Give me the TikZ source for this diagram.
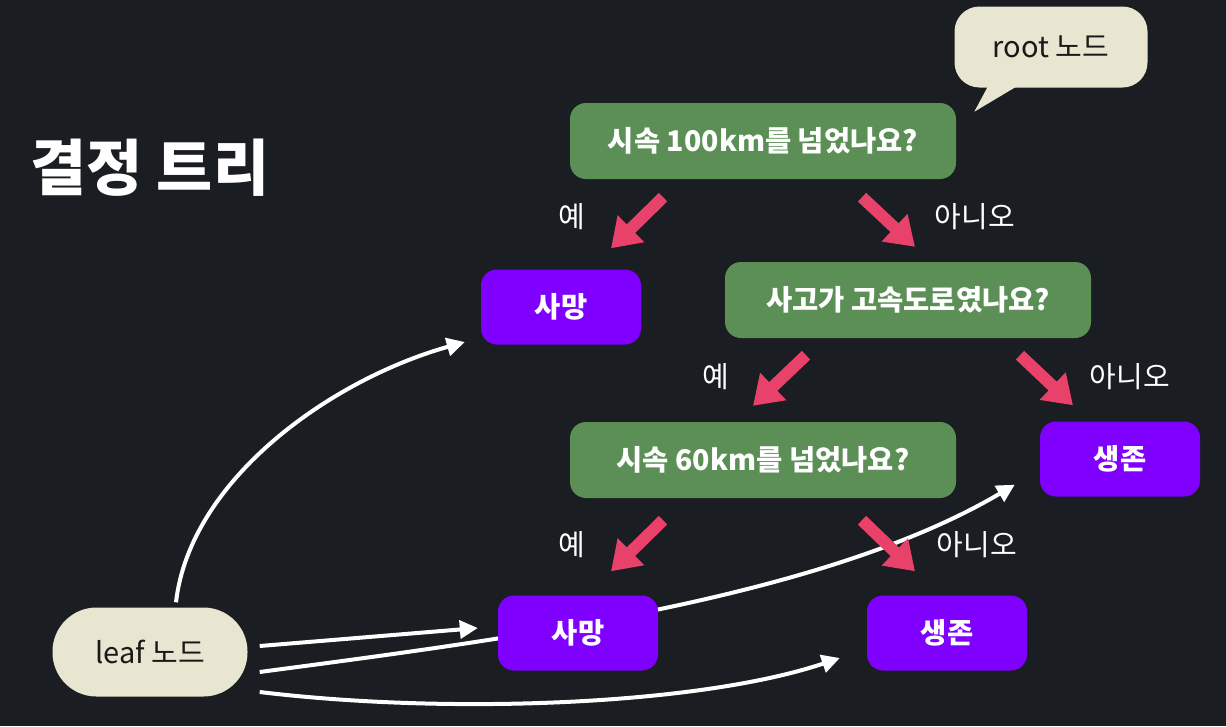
\documentclass[tikz,border=0pt]{standalone}
\usepackage{fontspec}
\setmainfont{Noto Sans CJK KR}
\usetikzlibrary{arrows.meta,backgrounds}
\definecolor{bgdark}{RGB}{26,29,33}
\definecolor{cream}{RGB}{232,229,208}
\definecolor{qgreen}{RGB}{91,143,86}
\definecolor{leafpurple}{RGB}{127,0,255}
\definecolor{arrpink}{RGB}{232,65,106}

\begin{document}
\begin{tikzpicture}[x=1pt, y=-1pt,
    qst/.style={fill=qgreen, rounded corners=16pt, minimum height=76pt, text=white, font=\bfseries\fontsize{28.5}{32}\selectfont},
    res/.style={fill=leafpurple, rounded corners=16pt, minimum width=160pt, minimum height=75pt, text=white, font=\bfseries\fontsize{28.5}{32}\selectfont},
    tag/.style={fill=cream, text=black!90, font=\fontsize{29}{32}\selectfont},
    ans/.style={text=white, font=\fontsize{29}{32}\selectfont},
    yn/.style={line width=12pt, arrpink, -{Triangle[length=28pt,width=36pt]}},
    ptr/.style={line width=4pt, white, -{Triangle[length=18pt,width=18pt]}}
]
\begin{scope}[on background layer]
\fill[bgdark] (0,0) rectangle (1226,726);
\end{scope}
\useasboundingbox (0,0) rectangle (1226,726);

\node[text=white, font=\bfseries\fontsize{61}{66}\selectfont] (title) at (150,168) {결정 트리};

\node[qst, minimum width=386pt] (q1) at (763,141) {시속 100km를 넘었나요?};
\node[res] (dead1) at (561,307) {사망};
\node[qst, minimum width=366pt] (q2) at (908,300) {사고가 고속도로였나요?};
\node[qst, minimum width=386pt] (q3) at (763,460) {시속 60km를 넘었나요?};
\node[res] (live1) at (1120,459) {생존};
\node[res] (dead2) at (578,633) {사망};
\node[res] (live2) at (947,633) {생존};

\node[tag, rounded corners=25pt, minimum width=193pt, minimum height=81pt] (root) at (1051,47) {root 노드};
\fill[cream] ([shift={(35,-4)}]root.south west) -- ([shift={(67,-4)}]root.south west) -- ([shift={(20,24)}]root.south west) -- cycle;
\node[tag, rounded corners=44pt, minimum width=195pt, minimum height=89pt] (leaf) at (150,652) {leaf 노드};

\node[ans] (y1) at (572,217) {예};
\node[ans] (n1) at (975,217) {아니오};
\node[ans] (y2) at (716,377) {예};
\node[ans] (n2) at (1130,377) {아니오};
\node[ans] (y3) at (572,545) {예};
\node[ans] (n3) at (977,545) {아니오};

\draw[yn] ([shift={(-100,18)}]q1.south) -- ([shift={(50,-21)}]dead1.north);
\draw[yn] ([shift={(99,18)}]q1.south) -- ([shift={(7,-15)}]q2.north);
\draw[yn] ([shift={(-102,17)}]q2.south) -- ([shift={(-10,-16)}]q3.north);
\draw[yn] ([shift={(112,17)}]q2.south) -- ([shift={(-47,-16)}]live1.north);
\draw[yn] ([shift={(-100,22)}]q3.south) -- ([shift={(33,-24)}]dead2.north);
\draw[yn] ([shift={(99,22)}]q3.south) -- ([shift={(-32,-24)}]live2.north);

\draw[ptr] ([shift={(26,-5)}]leaf.north) .. controls (190,480) and (330,380) .. ([shift={(-16,35)}]dead1.west);
\draw[ptr] ([shift={(12,-6)}]leaf.east) -- ([shift={(-20,-5)}]dead2.west);
\begin{scope}[on background layer]
\draw[ptr] ([shift={(12,20)}]leaf.east) .. controls (500,640) and (820,600) .. ([shift={(-25,-12)}]live1.south west);
\end{scope}
\draw[ptr] ([shift={(12,40)}]leaf.east) .. controls (450,715) and (700,705) .. ([shift={(-27,25)}]live2.west);
\end{tikzpicture}
\end{document}
